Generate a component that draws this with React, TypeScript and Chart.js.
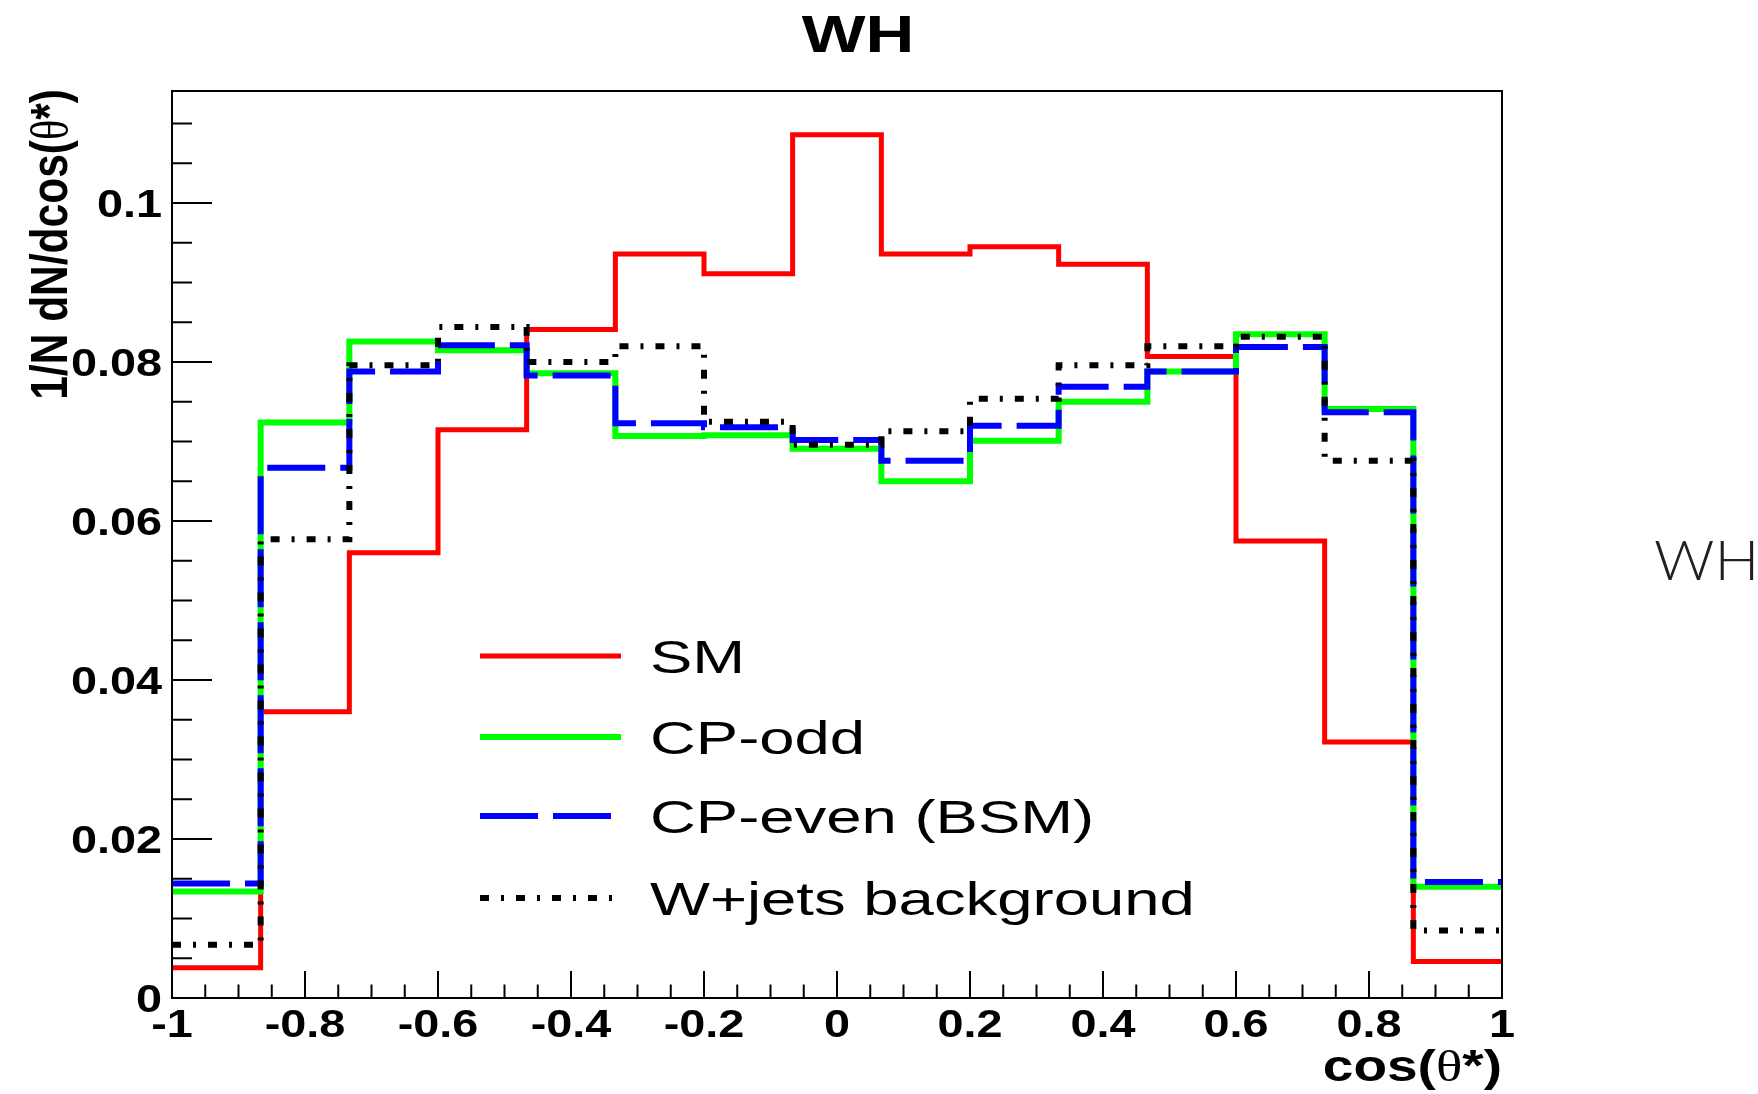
import React, { useEffect, useRef } from 'react';
import { Chart, registerables } from 'chart.js';

Chart.register(...registerables);

// Histogram bin edges (15 bins on [-1, 1])
const binEdges = [-1, -0.8667, -0.7333, -0.6, -0.4667, -0.3333, -0.2, -0.0667, 0.0667, 0.2, 0.3333, 0.4667, 0.6, 0.7333, 0.8667, 1];

// Series values (normalised bin contents)
const smValues = [0.0038, 0.0360, 0.0560, 0.0715, 0.0841, 0.0936, 0.0911, 0.1086, 0.0936, 0.0945, 0.0923, 0.0807, 0.0575, 0.0322, 0.0046];
const cpOddValues = [0.0134, 0.0724, 0.0826, 0.0815, 0.0786, 0.0707, 0.0708, 0.0691, 0.0650, 0.0701, 0.0750, 0.0788, 0.0835, 0.0741, 0.0140];
const cpEvenValues = [0.0144, 0.0667, 0.0788, 0.0821, 0.0783, 0.0723, 0.0718, 0.0702, 0.0676, 0.0720, 0.0769, 0.0788, 0.0819, 0.0737, 0.0146];
const wjetsValues = [0.0067, 0.0577, 0.0796, 0.0844, 0.0800, 0.0820, 0.0725, 0.0696, 0.0713, 0.0754, 0.0796, 0.0820, 0.0832, 0.0676, 0.0085];

const seriesNames = ['SM', 'CP-odd', 'CP-even (BSM)', 'W+jets background'];

// Axis ticks
const xTickValues = [-1, -0.8, -0.6, -0.4, -0.2, 0, 0.2, 0.4, 0.6, 0.8, 1];
const xTickLabels = ['-1', '-0.8', '-0.6', '-0.4', '-0.2', '0', '0.2', '0.4', '0.6', '0.8', '1'];
const yTickValues = [0, 0.02, 0.04, 0.06, 0.08, 0.1];
const yTickLabels = ['0', '0.02', '0.04', '0.06', '0.08', '0.1'];

const X_MIN = -1;
const X_MAX = 1;
const Y_MIN = 0;
const Y_MAX = 0.1141;

const W = 1758;
const H = 1094;

const SANS = '"Liberation Sans", Arial, Helvetica, sans-serif';
const SERIF = '"Liberation Serif", "DejaVu Serif", serif';

function histPoints(values: number[]) {
  const pts = values.map((v, i) => ({ x: binEdges[i], y: v }));
  pts.push({ x: binEdges[binEdges.length - 1], y: values[values.length - 1] });
  return pts;
}

type Seg = { t: string; font: string };

function segWidth(ctx: CanvasRenderingContext2D, segs: Seg[]) {
  let w = 0;
  for (const s of segs) {
    ctx.font = s.font;
    w += ctx.measureText(s.t).width;
  }
  return w;
}

// draw text; the whole text frame is stretched horizontally (page x) by hx,
// optionally rotated inside that stretched frame
function drawSegs(
  ctx: CanvasRenderingContext2D,
  segs: Seg[],
  x: number,
  y: number,
  align: 'left' | 'center' | 'right',
  hx: number,
  color = '#000',
  rotate = 0
) {
  ctx.save();
  ctx.translate(x, y);
  ctx.scale(hx, 1);
  if (rotate) ctx.rotate(rotate);
  const w = segWidth(ctx, segs);
  let left = 0;
  if (align === 'center') left = -w / 2;
  else if (align === 'right') left = -w;
  ctx.textAlign = 'left';
  ctx.textBaseline = 'alphabetic';
  ctx.fillStyle = color;
  let cx = left;
  for (const s of segs) {
    ctx.font = s.font;
    ctx.fillText(s.t, cx, 0);
    cx += ctx.measureText(s.t).width;
  }
  ctx.restore();
}

const styles = [
  { color: '#ff0000', width: 5, dash: [] as number[] },
  { color: '#00ff00', width: 6, dash: [] as number[] },
  { color: '#0000ff', width: 6, dash: [58, 15] },
  { color: '#000000', width: 6, dash: [9, 12, 3, 12] },
];

const rootPlugin = {
  id: 'rootDecor',
  afterDraw(chart: any) {
    const ctx: CanvasRenderingContext2D = chart.ctx;
    const xs = chart.scales.x;
    const ys = chart.scales.y;
    const area = chart.chartArea;
    const L = area.left, R = area.right, T = area.top, B = area.bottom;

    ctx.save();
    // frame
    ctx.strokeStyle = '#000';
    ctx.lineWidth = 2;
    ctx.setLineDash([]);
    ctx.strokeRect(L, T, R - L, B - T);

    // ticks
    ctx.beginPath();
    for (let k = 0; k <= 22; k++) {
      const v = k * 0.005;
      if (v > Y_MAX) break;
      const py = ys.getPixelForValue(v);
      const len = k % 4 === 0 ? 40 : 20;
      ctx.moveTo(L, py);
      ctx.lineTo(L + len, py);
    }
    for (let k = 0; k <= 40; k++) {
      const v = -1 + k * 0.05;
      const px = xs.getPixelForValue(v);
      const len = k % 4 === 0 ? 27 : 13.5;
      ctx.moveTo(px, B);
      ctx.lineTo(px, B - len);
    }
    ctx.lineWidth = 2;
    ctx.stroke();

    const tickFont = `bold 39px ${SANS}`;
    yTickValues.forEach((v, i) => {
      const py = ys.getPixelForValue(v);
      drawSegs(ctx, [{ t: yTickLabels[i], font: tickFont }], L - 10, py + 14, 'right', 1.2);
    });
    xTickValues.forEach((v, i) => {
      const px = xs.getPixelForValue(v);
      drawSegs(ctx, [{ t: xTickLabels[i], font: tickFont }], px, B + 39, 'center', 1.2);
    });

    // title
    drawSegs(ctx, [{ t: 'WH', font: `bold 52px ${SANS}` }], 858, 52, 'center', 1.3);

    // x axis title
    const xt: Seg[] = [
      { t: 'cos(', font: `bold 44px ${SANS}` },
      { t: 'θ', font: `44px ${SERIF}` },
      { t: '*)', font: `bold 44px ${SANS}` },
    ];
    drawSegs(ctx, xt, R, 1081, 'right', 1.25);

    // y axis title (rotated)
    const yt: Seg[] = [
      { t: '1/N dN/dcos(', font: `bold 42.5px ${SANS}` },
      { t: 'θ', font: `42.5px ${SERIF}` },
      { t: '*)', font: `bold 42.5px ${SANS}` },
    ];
    drawSegs(ctx, yt, 67, T - 2, 'right', 1.22, '#000', -Math.PI / 2);

    // legend
    const legY = [656, 737, 816, 898];
    seriesNames.forEach((name, i) => {
      const st = styles[i];
      ctx.save();
      ctx.strokeStyle = st.color;
      ctx.lineWidth = st.width;
      ctx.setLineDash(st.dash);
      ctx.lineCap = 'butt';
      ctx.beginPath();
      ctx.moveTo(480, legY[i]);
      ctx.lineTo(621, legY[i]);
      ctx.stroke();
      ctx.restore();
      drawSegs(ctx, [{ t: name, font: `47px ${SANS}` }], 650, legY[i] + 17, 'left', 1.35);
    });

    // side label
    drawSegs(ctx, [{ t: 'WH', font: `300 55px Lato, "Open Sans", sans-serif` }], 1654, 580, 'left', 1.08, '#231f20');

    ctx.restore();
  },
};

export default function App() {
  const ref = useRef<HTMLCanvasElement | null>(null);

  useEffect(() => {
    const canvas = ref.current;
    if (!canvas) return;
    const allValues = [smValues, cpOddValues, cpEvenValues, wjetsValues];
    const datasets = allValues.map((vals, i) => ({
      label: seriesNames[i],
      data: histPoints(vals),
      stepped: 'before' as const,
      borderColor: styles[i].color,
      borderWidth: styles[i].width,
      borderDash: styles[i].dash,
      borderCapStyle: 'butt' as const,
      borderJoinStyle: 'miter' as const,
      pointRadius: 0,
      fill: false,
      tension: 0,
      order: 4 - i,
    }));
    const chart = new Chart(canvas, {
      type: 'line',
      data: { datasets },
      options: {
        responsive: false,
        animation: false,
        devicePixelRatio: 1,
        layout: { padding: { left: 172, right: W - 1502, top: 91, bottom: H - 998 } },
        plugins: { legend: { display: false }, tooltip: { enabled: false }, title: { display: false } },
        scales: {
          x: { type: 'linear', min: X_MIN, max: X_MAX, display: false },
          y: { type: 'linear', min: Y_MIN, max: Y_MAX, display: false },
        },
        events: [],
      },
      plugins: [rootPlugin],
    });
    return () => chart.destroy();
  }, []);

  return (
    <div style={{ position: 'absolute', left: 0, top: 0, width: W, height: H, background: '#fff' }}>
      <canvas ref={ref} width={W} height={H} style={{ width: W, height: H, display: 'block' }} />
    </div>
  );
}
